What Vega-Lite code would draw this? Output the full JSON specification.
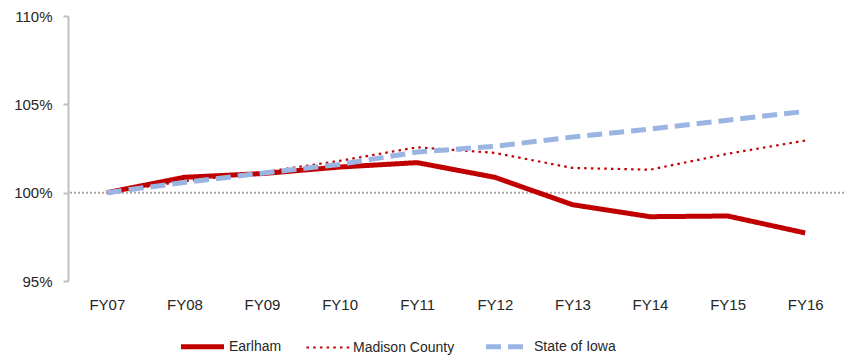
{
  "$schema": "https://vega.github.io/schema/vega-lite/v6.json",
  "width": 776,
  "height": 265,
  "autosize": "none",
  "padding": {"left": 68, "top": 16, "right": 3, "bottom": 75},
  "background": "white",
  "config": {
    "view": {"stroke": null},
    "font": "Liberation Sans",
    "axis": {"labelFont": "Liberation Sans", "labelColor": "#262626", "labelFontSize": 15, "grid": false, "title": null},
    "legend": {"labelFont": "Liberation Sans", "labelColor": "#262626", "labelFontSize": 14}
  },
  "data": {
    "values": [
      {"year": "FY07", "series": "Earlham", "value": 100},
      {"year": "FY08", "series": "Earlham", "value": 100.87},
      {"year": "FY09", "series": "Earlham", "value": 101.08},
      {"year": "FY10", "series": "Earlham", "value": 101.45},
      {"year": "FY11", "series": "Earlham", "value": 101.7},
      {"year": "FY12", "series": "Earlham", "value": 100.87},
      {"year": "FY13", "series": "Earlham", "value": 99.32},
      {"year": "FY14", "series": "Earlham", "value": 98.64},
      {"year": "FY15", "series": "Earlham", "value": 98.68},
      {"year": "FY16", "series": "Earlham", "value": 97.72},
      {"year": "FY07", "series": "Madison County", "value": 100},
      {"year": "FY08", "series": "Madison County", "value": 100.65},
      {"year": "FY09", "series": "Madison County", "value": 101.15},
      {"year": "FY10", "series": "Madison County", "value": 101.8},
      {"year": "FY11", "series": "Madison County", "value": 102.57},
      {"year": "FY12", "series": "Madison County", "value": 102.25},
      {"year": "FY13", "series": "Madison County", "value": 101.4},
      {"year": "FY14", "series": "Madison County", "value": 101.3},
      {"year": "FY15", "series": "Madison County", "value": 102.2},
      {"year": "FY16", "series": "Madison County", "value": 102.95},
      {"year": "FY07", "series": "State of Iowa", "value": 100},
      {"year": "FY08", "series": "State of Iowa", "value": 100.58},
      {"year": "FY09", "series": "State of Iowa", "value": 101.1},
      {"year": "FY10", "series": "State of Iowa", "value": 101.6},
      {"year": "FY11", "series": "State of Iowa", "value": 102.3},
      {"year": "FY12", "series": "State of Iowa", "value": 102.62},
      {"year": "FY13", "series": "State of Iowa", "value": 103.15},
      {"year": "FY14", "series": "State of Iowa", "value": 103.6},
      {"year": "FY15", "series": "State of Iowa", "value": 104.1},
      {"year": "FY16", "series": "State of Iowa", "value": 104.6}
    ]
  },
  "layer": [
    {
      "data": {"values": [{"ref": 100}]},
      "mark": {"type": "rule", "color": "#A6A6A6", "strokeWidth": 2, "strokeDash": [2, 2]},
      "encoding": {"y": {"field": "ref", "type": "quantitative"}}
    },
    {
      "mark": {"type": "line", "strokeJoin": "round"},
      "encoding": {
        "x": {
          "field": "year", "type": "ordinal",
          "scale": {"type": "point", "padding": 0.5},
          "axis": {"domain": false, "ticks": false, "labelPadding": 16, "labelAngle": 0}
        },
        "y": {
          "field": "value", "type": "quantitative",
          "scale": {"domain": [95, 110], "nice": false, "zero": false},
          "axis": {"values": [95, 100, 105, 110], "labelExpr": "datum.value + '%'", "domainColor": "#BFBFBF", "domainWidth": 2, "tickColor": "#BFBFBF", "tickWidth": 2, "tickSize": 5, "labelPadding": 11}
        },
        "color": {
          "field": "series", "type": "nominal",
          "scale": {"domain": ["Earlham", "Madison County", "State of Iowa"], "range": ["#C00000", "#C00000", "#9BB5E3"]},
          "legend": {"title": null, "orient": "none", "legendX": 110, "legendY": 306, "direction": "horizontal", "symbolType": "stroke", "symbolSize": 1850, "labelOffset": 2, "columnPadding": 20, "padding": 0, "offset": 0}
        },
        "strokeDash": {
          "field": "series", "type": "nominal",
          "scale": {"domain": ["Earlham", "Madison County", "State of Iowa"], "range": [[1, 0], [2.5, 4.2], [15, 7]]}
        },
        "strokeWidth": {
          "field": "series", "type": "nominal",
          "scale": {"type": "ordinal", "domain": ["Earlham", "Madison County", "State of Iowa"], "range": [5, 2.2, 5]}
        }
      }
    }
  ]
}
